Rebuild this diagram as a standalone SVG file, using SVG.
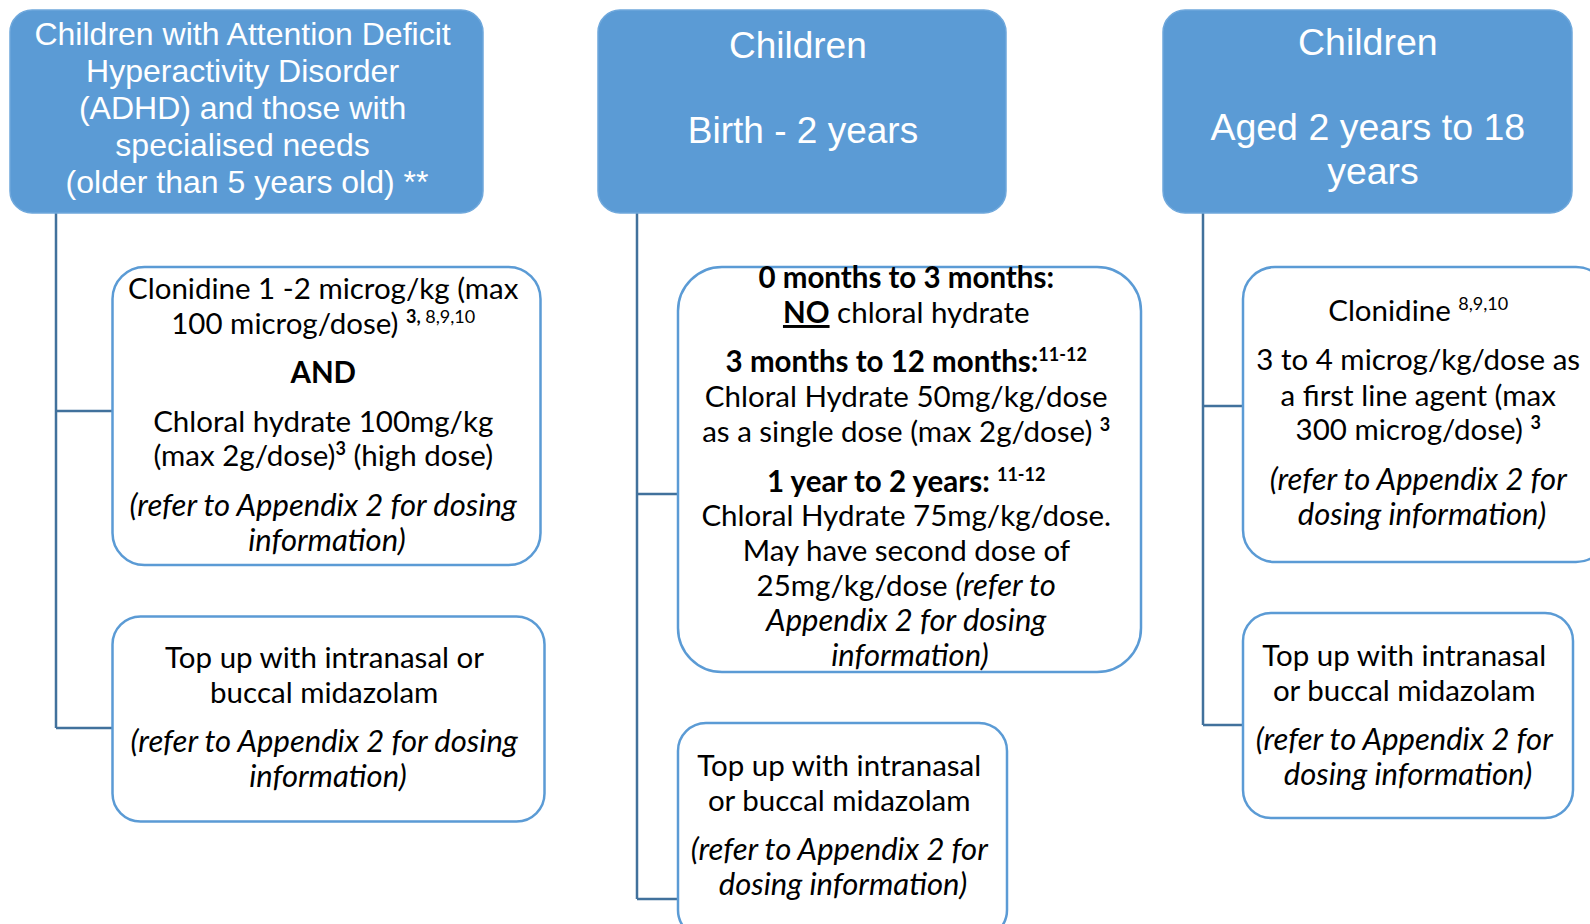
<svg xmlns="http://www.w3.org/2000/svg" width="1590" height="924" viewBox="0 0 1590 924">
<style>
.hdr{fill:#5B9BD5;stroke:#6FA8DC;stroke-width:1.5}
.box{fill:#FFFFFF;stroke:#5B9BD5;stroke-width:2.5}
.ht{font-family:"Liberation Sans",Arial,sans-serif;fill:#FFFFFF;text-anchor:middle}
.bt{font-family:Lato,"Noto Sans",sans-serif;font-size:29.5px;fill:#000000;text-anchor:middle}
.b{font-weight:bold}
.i{font-style:italic;font-size:31px}
.sup{font-size:18px}
.conn{fill:none;stroke:#41719C;stroke-width:2.5}
</style>
<rect width="1590" height="924" fill="#FFFFFF"/>
<g id="connectors">
<path class="conn" d="M56,213 V728 M56,411 H112 M56,728 H112"/>
<path class="conn" d="M637,213 V899 M637,494 H678 M637,899 H678"/>
<path class="conn" d="M1203,213 V725 M1203,406 H1243 M1203,725 H1243"/>
</g>
<g id="header-adhd">
<rect class="hdr" x="10" y="10" width="473" height="203" rx="22"/>
<text class="ht" font-size="32">
<tspan x="247" y="45">Children with Attention Deficit</tspan>
<tspan x="247" y="82">Hyperactivity Disorder</tspan>
<tspan x="247" y="119">(ADHD) and those with</tspan>
<tspan x="247" y="156">specialised needs</tspan>
<tspan x="247" y="193">(older than 5 years old) **</tspan>
</text>
</g>
<g id="header-birth">
<rect class="hdr" x="598" y="10" width="408" height="203" rx="22"/>
<text class="ht" font-size="37">
<tspan x="803" y="58">Children</tspan>
<tspan x="803" y="143">Birth - 2 years</tspan>
</text>
</g>
<g id="header-2to18">
<rect class="hdr" x="1163" y="10" width="409" height="203" rx="22"/>
<text class="ht" font-size="37.5">
<tspan x="1373" y="55">Children</tspan>
<tspan x="1373" y="140">Aged 2 years to 18</tspan>
<tspan x="1373" y="184">years</tspan>
</text>
</g>
<g id="adhd-clonidine">
<rect class="box" x="112.5" y="267" width="428" height="298" rx="32"/>
<text class="bt">
<tspan x="327" y="299">Clonidine 1 -2 microg/kg (max</tspan>
<tspan x="327" y="334">100 microg/dose) <tspan class="sup b" dy="-11">3,</tspan><tspan class="sup"> 8,9,10</tspan></tspan>
<tspan class="b" x="327" y="383">AND</tspan>
<tspan x="327" y="432">Chloral hydrate 100mg/kg</tspan>
<tspan x="327" y="466">(max 2g/dose)<tspan class="sup b" dy="-11">3</tspan><tspan dy="11"> (high dose)</tspan></tspan>
<tspan class="i" x="327" y="516">(refer to Appendix 2 for dosing</tspan>
<tspan class="i" x="327" y="551">information)</tspan>
</text>
</g>
<g id="adhd-midazolam">
<rect class="box" x="112.5" y="616.5" width="432" height="205" rx="28"/>
<text class="bt">
<tspan x="328" y="668">Top up with intranasal or</tspan>
<tspan x="328" y="703">buccal midazolam</tspan>
<tspan class="i" x="328" y="752">(refer to Appendix 2 for dosing</tspan>
<tspan class="i" x="328" y="787">information)</tspan>
</text>
</g>
<g id="birth-chloral">
<rect class="box" x="678" y="267" width="463" height="405" rx="44"/>
<text class="bt">
<tspan class="b" x="910" y="288">0 months to 3 months:</tspan>
<tspan x="910" y="323"><tspan class="b" text-decoration="underline">NO</tspan> chloral hydrate</tspan>
<tspan x="910" y="372"><tspan class="b">3 months to 12 months:</tspan><tspan class="sup b" dy="-11">11-12</tspan></tspan>
<tspan x="910" y="407">Chloral Hydrate 50mg/kg/dose</tspan>
<tspan x="910" y="442">as a single dose (max 2g/dose) <tspan class="sup b" dy="-11">3</tspan></tspan>
<tspan x="910" y="492"><tspan class="b">1 year to 2 years: </tspan><tspan class="sup b" dy="-11">11-12</tspan></tspan>
<tspan x="910" y="526">Chloral Hydrate 75mg/kg/dose.</tspan>
<tspan x="910" y="561">May have second dose of</tspan>
<tspan x="910" y="596">25mg/kg/dose <tspan class="i">(refer to</tspan></tspan>
<tspan class="i" x="910" y="631">Appendix 2 for dosing</tspan>
<tspan class="i" x="910" y="666">information)</tspan>
</text>
</g>
<g id="birth-midazolam">
<rect class="box" x="678" y="723" width="329" height="215" rx="28"/>
<text class="bt">
<tspan x="843" y="776">Top up with intranasal</tspan>
<tspan x="843" y="811">or buccal midazolam</tspan>
<tspan class="i" x="843" y="860">(refer to Appendix 2 for</tspan>
<tspan class="i" x="843" y="895">dosing information)</tspan>
</text>
</g>
<g id="older-clonidine">
<rect class="box" x="1243" y="267" width="365" height="295" rx="32"/>
<text class="bt">
<tspan x="1422" y="321">Clonidine <tspan class="sup" dy="-11">8,9,10</tspan></tspan>
<tspan x="1422" y="370">3 to 4 microg/kg/dose as</tspan>
<tspan x="1422" y="406">a first line agent (max</tspan>
<tspan x="1422" y="440">300 microg/dose) <tspan class="sup b" dy="-11">3</tspan></tspan>
<tspan class="i" x="1422" y="489.5">(refer to Appendix 2 for</tspan>
<tspan class="i" x="1422" y="524.5">dosing information)</tspan>
</text>
</g>
<g id="older-midazolam">
<rect class="box" x="1243" y="613" width="330" height="205" rx="28"/>
<text class="bt">
<tspan x="1408" y="666">Top up with intranasal</tspan>
<tspan x="1408" y="701">or buccal midazolam</tspan>
<tspan class="i" x="1408" y="749.5">(refer to Appendix 2 for</tspan>
<tspan class="i" x="1408" y="784.5">dosing information)</tspan>
</text>
</g>
</svg>
